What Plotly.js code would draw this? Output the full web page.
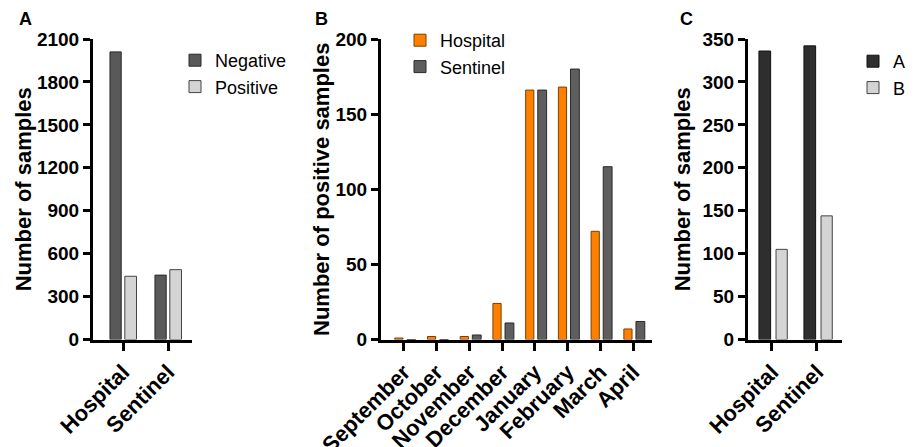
<!DOCTYPE html>
<html><head><meta charset="utf-8">
<script src="https://cdn.plot.ly/plotly-3.0.1.min.js"></script>
<style>html,body{margin:0;padding:0;background:#fff}</style>
</head><body><div id="chart" style="width:917px;height:447px"></div>
<script>
// Panel A
const sites = ['Hospital', 'Sentinel'];
const negativeCounts = [2010, 450];
const positiveCounts = [442, 488];
const ticksA = [0, 300, 600, 900, 1200, 1500, 1800, 2100];
// Panel B
const months = ['September', 'October', 'November', 'December', 'January', 'February', 'March', 'April'];
const hospitalPositive = [1, 2, 2, 24, 166, 168, 72, 7];
const sentinelPositive = [0, 0, 3, 11, 166, 180, 115, 12];
const ticksB = [0, 50, 100, 150, 200];
// Panel C
const groupA = [336, 342];
const groupB = [105, 144];
const ticksC = [0, 50, 100, 150, 200, 250, 300, 350];

const FONT = 'Liberation Sans, Arial, Helvetica, sans-serif';
const H = 447, W = 917;
const yDom = [1 - 339.5 / H, 1 - 39 / H];

function yax(range, ticks, title, anchor, standoff) {
  return {
    domain: yDom, range: range, anchor: anchor,
    tickmode: 'array', tickvals: ticks, ticktext: ticks.map(String),
    showline: true, linewidth: 3, linecolor: '#000',
    ticks: 'outside', ticklen: 7, tickwidth: 3, tickcolor: '#000',
    showgrid: false, zeroline: false, fixedrange: true,
    tickfont: {family: FONT, size: 19, weight: 'bold', color: '#000'},
    title: {text: title, standoff: standoff, font: {family: FONT, size: 22, weight: 'bold', color: '#000'}}
  };
}
function xax(domain, range, anchor) {
  return {
    domain: domain, range: range, anchor: anchor, type: 'category',
    showline: true, linewidth: 3, linecolor: '#000',
    ticks: 'outside', ticklen: 8, tickwidth: 3, tickcolor: '#000',
    showgrid: false, zeroline: false, fixedrange: true, tickangle: -45,
    tickfont: {family: FONT, size: 22, weight: 'bold', color: '#000'}
  };
}

const traces = [
  {type: 'bar', name: 'Negative', x: sites, y: negativeCounts, xaxis: 'x', yaxis: 'y', legend: 'legend',
   width: 0.25, offset: -0.29, marker: {color: '#595959', line: {color: '#2a2a2a', width: 1}}},
  {type: 'bar', name: 'Positive', x: sites, y: positiveCounts, xaxis: 'x', yaxis: 'y', legend: 'legend',
   width: 0.26, offset: 0.04, marker: {color: '#d4d4d4', line: {color: '#444', width: 1}}},
  {type: 'bar', name: 'Hospital', x: months, y: hospitalPositive, xaxis: 'x2', yaxis: 'y2', legend: 'legend2',
   width: 0.25, offset: -0.28, marker: {color: '#ff8000', line: {color: '#7a4000', width: 1}}},
  {type: 'bar', name: 'Sentinel', x: months, y: sentinelPositive, xaxis: 'x2', yaxis: 'y2', legend: 'legend2',
   width: 0.27, offset: 0.09, marker: {color: '#5e5e5e', line: {color: '#2a2a2a', width: 1}}},
  {type: 'bar', name: 'A', x: sites, y: groupA, xaxis: 'x3', yaxis: 'y3', legend: 'legend3',
   width: 0.26, offset: -0.29, marker: {color: '#2e2e2e', line: {color: '#111', width: 1}}},
  {type: 'bar', name: 'B', x: sites, y: groupB, xaxis: 'x3', yaxis: 'y3', legend: 'legend3',
   width: 0.25, offset: 0.09, marker: {color: '#d4d4d4', line: {color: '#444', width: 1}}}
];

const legendFont = {family: FONT, size: 18, color: '#000'};
const panelFont = {family: FONT, size: 18, weight: 'bold', color: '#000'};
const layout = {
  width: W, height: H, margin: {l: 0, r: 0, t: 0, b: 0},
  paper_bgcolor: '#fff', plot_bgcolor: '#fff', barmode: 'group', showlegend: true,
  xaxis: xax([93 / W, 192 / W], [-0.667, 1.533], 'y'),
  yaxis: yax([0, 2100], ticksA, 'Number of samples', 'x', 0),
  xaxis2: xax([381 / W, 652 / W], [-0.7, 7.58], 'y2'),
  yaxis2: yax([0, 200], ticksB, 'Number of positive samples', 'x2', 0),
  xaxis3: xax([748 / W, 842 / W], [-0.533, 1.556], 'y3'),
  yaxis3: yax([0, 350], ticksC, 'Number of samples', 'x3', 6),
  legend: {x: 175 / W, y: 1 - 42 / H, xanchor: 'left', yanchor: 'top', font: legendFont, bgcolor: 'rgba(0,0,0,0)', tracegroupgap: 0},
  legend2: {x: 400 / W, y: 1 - 22 / H, xanchor: 'left', yanchor: 'top', font: legendFont, bgcolor: 'rgba(0,0,0,0)', tracegroupgap: 0},
  legend3: {x: 853 / W, y: 1 - 43 / H, xanchor: 'left', yanchor: 'top', font: legendFont, bgcolor: 'rgba(0,0,0,0)', tracegroupgap: 0},
  annotations: [
    {text: 'A', x: 25 / W, y: 1 - 19 / H, xref: 'paper', yref: 'paper', xanchor: 'center', yanchor: 'middle', showarrow: false, font: panelFont},
    {text: 'B', x: 321 / W, y: 1 - 19 / H, xref: 'paper', yref: 'paper', xanchor: 'center', yanchor: 'middle', showarrow: false, font: panelFont},
    {text: 'C', x: 686 / W, y: 1 - 19 / H, xref: 'paper', yref: 'paper', xanchor: 'center', yanchor: 'middle', showarrow: false, font: panelFont}
  ]
};

Plotly.newPlot('chart', traces, layout, {displayModeBar: false, staticPlot: true});
</script>
</body></html>
